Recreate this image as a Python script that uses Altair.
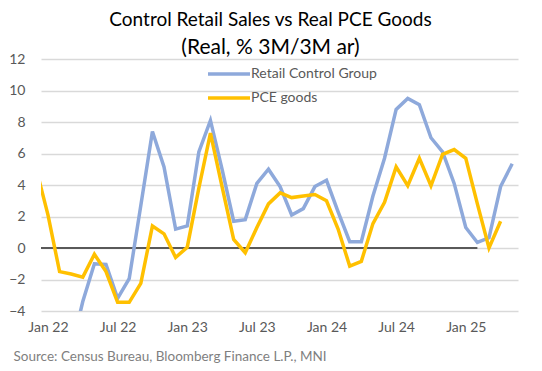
import altair as alt
import pandas as pd

# month index: 0 = Jan 22
retail_months = list(range(2, 41))
retail_values = [-6.5, -3.4, -1.0, -1.05, -3.2, -1.95, 2.7, 7.4, 5.15, 1.2, 1.4, 6.1, 8.1, 5.0,
                 1.7, 1.8, 4.1, 5.0, 3.9, 2.1, 2.5, 3.9, 4.3, 2.3, 0.4, 0.4, 3.3, 5.7,
                 8.8, 9.5, 9.1, 7.0, 6.1, 4.1, 1.3, 0.35, 0.65, 3.9, 5.35]
pce_months = list(range(-1, 40))
pce_values = [5.0, 2.1, -1.5, -1.65, -1.85, -0.4, -1.5, -3.45, -3.45, -2.25, 1.4, 0.9, -0.6, 0.05,
              3.8, 7.3, 3.9, 0.55, -0.3, 1.3, 2.8, 3.5, 3.2, 3.3, 3.4, 3.0, 1.2, -1.15,
              -0.85, 1.55, 2.9, 5.15, 3.95, 5.7, 3.95, 5.95, 6.25, 5.7, 2.8, 0.0, 1.7]
tick_months = [0, 6, 12, 18, 24, 30, 36]
tick_labels = ["Jan 22", "Jul 22", "Jan 23", "Jul 23", "Jan 24", "Jul 24", "Jan 25"]
y_ticks = [-4, -2, 0, 2, 4, 6, 8, 10, 12]
series_names = ["Retail Control Group", "PCE goods"]
series_colors = ["#8EA9DB", "#FFC000"]
zero_span = [-0.6, 37]

df = pd.concat([
    pd.DataFrame({"m": retail_months, "v": retail_values, "s": series_names[0]}),
    pd.DataFrame({"m": pce_months, "v": pce_values, "s": series_names[1]}),
])
zero_df = pd.DataFrame({"m": [zero_span[0]], "m2": [zero_span[1]], "v": [0]})

FONT = "Lato"
label_expr = "{" + ",".join(f"'{k}':'{l}'" for k, l in zip(tick_months, tick_labels)) + "}[datum.value]"

xscale = alt.Scale(domain=[-0.6, 40.5], nice=False, zero=False)
yscale = alt.Scale(domain=[-4, 12], nice=False)

xaxis = alt.Axis(values=tick_months, labelExpr=label_expr, grid=False, ticks=False,
                 domain=False, labelFontSize=14, labelColor="#595959", labelFont=FONT,
                 labelPadding=9, labelOverlap=False,
                 title="Source: Census Bureau, Bloomberg Finance L.P., MNI",
                 titleFont=FONT, titleFontSize=13.5, titleFontWeight="normal",
                 titleColor="#7F7F7F", titleAnchor="start", titleAlign="left",
                 titleX=-28, titleY=45, titleBaseline="middle")
yaxis = alt.Axis(values=y_ticks, tickCount=9, grid=True, gridColor="#D9D9D9",
                 gridWidth=1.5, ticks=False, domain=False, labelFontSize=14,
                 labelColor="#595959", labelFont=FONT, labelPadding=16,
                 labelOverlap=False, title=None)

lines = alt.Chart(df).mark_line(strokeWidth=3.5, clip=True).encode(
    x=alt.X("m:Q", scale=xscale, axis=xaxis),
    y=alt.Y("v:Q", scale=yscale, axis=yaxis),
    color=alt.Color("s:N", scale=alt.Scale(domain=series_names, range=series_colors),
                    legend=alt.Legend(title=None, orient="none", legendX=166, legendY=5,
                                      symbolType="M-1.05,0H1.05", symbolSize=1600,
                                      symbolStrokeWidth=3.5, clipHeight=20,
                                      labelFontSize=14, labelColor="#595959", labelFont=FONT,
                                      rowPadding=4, labelOffset=0)),
)

zero = alt.Chart(zero_df).mark_rule(color="#595959", strokeWidth=2).encode(
    x=alt.X("m:Q", scale=xscale, axis=xaxis), x2="m2:Q",
    y=alt.Y("v:Q", scale=yscale, axis=yaxis)
)

chart = alt.layer(zero, lines).properties(
    width=477, height=252,
    title=alt.TitleParams("Control Retail Sales vs Real PCE Goods",
                          subtitle="(Real, % 3M/3M ar)",
                          font=FONT, fontSize=19, fontWeight="normal", color="#000000",
                          subtitleFont=FONT, subtitleFontSize=21, subtitleColor="#000000",
                          subtitlePadding=7,
                          anchor="middle", dx=-9, dy=12, offset=6),
    autosize=alt.AutoSizeParams(type="none"),
    padding={"left": 33, "top": 51, "right": 16, "bottom": 52},
).configure_view(stroke=None)

chart.save("out.html", embed_options={"renderer": "svg", "actions": False})
